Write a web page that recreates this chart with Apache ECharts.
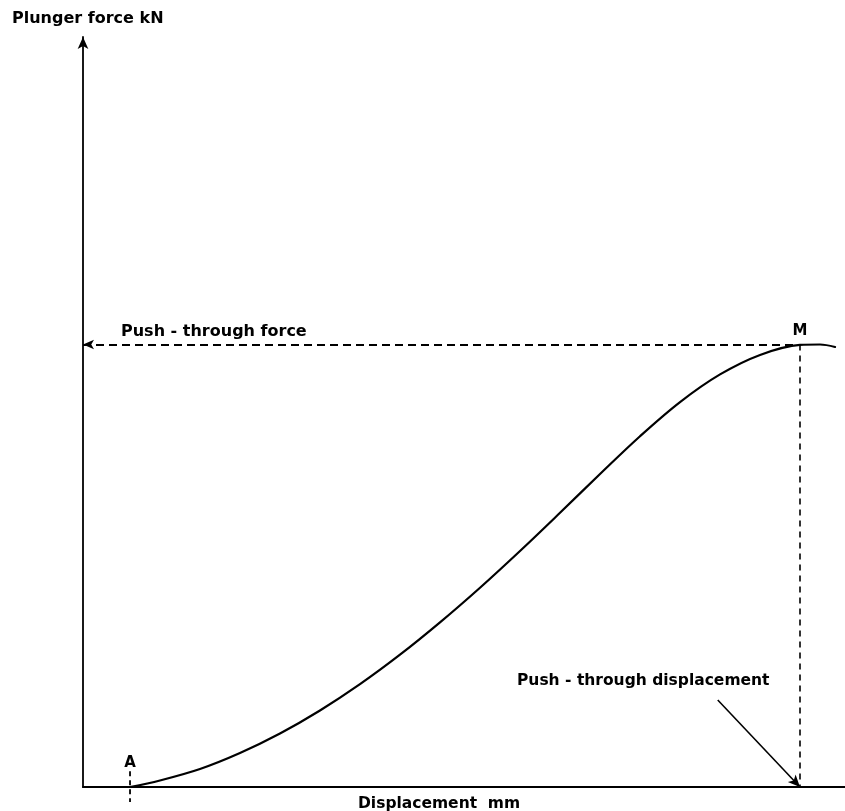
<!DOCTYPE html>
<html><head><meta charset="utf-8">
<script src="https://cdn.jsdelivr.net/npm/echarts@6/dist/echarts.min.js"></script>
<style>html,body{margin:0;padding:0;background:#fff}#c{width:845px;height:811px}</style>
</head><body><div id="c"></div>
<script>
// Schematic force-displacement curve (no numeric scale in the original)
const displacement = [6.17, 10.1, 15.35, 20.6, 25.85, 31.1, 36.35, 41.6, 46.85, 52.1, 57.35, 62.6, 67.85, 73.1, 78.35, 83.6, 88.85, 94.09, 96.72, 98.69];
const force        = [0, 0.87, 2.4, 4.53, 7.13, 10.2, 13.71, 17.64, 21.95, 26.57, 31.47, 36.56, 41.73, 46.77, 51.32, 55.01, 57.61, 58.95, 59.0, 58.67];
const pointA = [6.17, 0];
const pointM = [94.09, 59.0];
const markerA = [[6.17, 2.1], [6.17, -2.0]];
const annotationStart = [83.3, 11.6];
const pointNames = ['A', 'M'];
const texts = {
  yTitle: 'Plunger force kN',
  xTitle: 'Displacement  mm',
  force: 'Push - through force',
  disp: 'Push - through displacement'
};

const FONT = 'DejaVu Sans';
const chart = echarts.init(document.getElementById('c'), null, {renderer: 'canvas'});
const curve = displacement.map((x, i) => [x, force[i]]);
const dashed = {type: [8, 5], color: '#000', width: 1.8};

function txt(text, x, y, size, align) {
  return {
    type: 'text', x: x, y: y, silent: true,
    style: {
      text: text, fill: '#000',
      font: 'bold ' + size + 'px "' + FONT + '"',
      align: align || 'left', textAlign: align || 'left',
      verticalAlign: 'middle', textVerticalAlign: 'middle'
    }
  };
}

chart.setOption({
  animation: false,
  backgroundColor: '#fff',
  grid: {left: 83, right: 0, top: 37, bottom: 24},
  xAxis: {
    type: 'value', min: 0, max: 100,
    axisLine: {show: true, lineStyle: {color: '#000', width: 2.2}},
    axisTick: {show: false}, axisLabel: {show: false}, splitLine: {show: false}
  },
  yAxis: {
    type: 'value', min: 0, max: 100,
    axisLine: {show: true, symbol: ['none', 'arrow'], symbolSize: [8, 12],
               lineStyle: {color: '#000', width: 1.8}},
    axisTick: {show: false}, axisLabel: {show: false}, splitLine: {show: false}
  },
  series: [
    {
      type: 'line', data: curve, smooth: 0.35, showSymbol: false, z: 3, silent: true,
      lineStyle: {color: '#000', width: 2.2, cap: 'round', join: 'round'},
      markLine: {
        silent: true, animation: false, symbol: ['none', 'none'],
        label: {show: false},
        data: [
          [{coord: [0, pointM[1]], symbol: 'arrow', symbolSize: [7, 11], lineStyle: dashed},
           {coord: pointM, symbol: 'none'}],
          [{coord: pointM, symbol: 'none', lineStyle: {type: [6, 5], color: '#000', width: 1.6}},
           {coord: [pointM[0], 0], symbol: 'none'}],
          [{coord: annotationStart, symbol: 'none', lineStyle: {type: 'solid', color: '#000', width: 1.6}},
           {coord: [pointM[0], 0], symbol: 'arrow', symbolSize: [8, 12]}]
        ]
      }
    },
    {
      type: 'line', data: markerA, clip: false, showSymbol: false, symbol: 'none', silent: true,
      lineStyle: {type: [5, 4], color: '#000', width: 1.8}
    }
  ]
});

// Point labels A and M placed at their data positions
const pa = chart.convertToPixel({gridIndex: 0}, pointA);
const pm = chart.convertToPixel({gridIndex: 0}, pointM);
chart.setOption({
  graphic: [
    txt(texts.yTitle, 12, 19, 16),
    txt(texts.force, 121, 332, 16),
    txt(texts.disp, 517, 681, 15.5),
    txt(texts.xTitle, 358, 804, 15.5),
    txt(pointNames[0], pa[0], pa[1] - 24, 15, 'center'),
    txt(pointNames[1], pm[0], pm[1] - 13, 15, 'center')
  ]
});
</script></body></html>
